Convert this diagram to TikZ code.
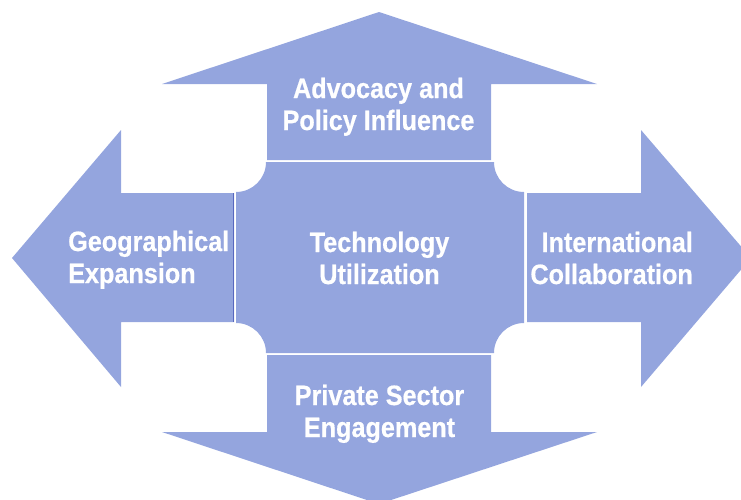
\documentclass[tikz,border=0pt]{standalone}
\usepackage{fontspec}
\setmainfont{Liberation Sans}[FakeStretch=0.9,BoldFeatures={FakeBold=0.6}]
\definecolor{arrowfill}{RGB}{148,165,222}
\definecolor{edgeline}{RGB}{88,104,190}
\begin{document}
\begin{tikzpicture}[x=1pt,y=-1pt,
  lbl/.style={inner sep=0pt,text=white,font=\fontsize{28}{32}\selectfont\bfseries}]
\useasboundingbox (0,0) rectangle (741,499);
% top arrow
\fill[arrowfill] (267,160) -- (267,84) -- (162,84) -- (379,12) -- (597,84) -- (491,84) -- (491,160) -- cycle;
% bottom arrow
\fill[arrowfill] (267,355) -- (491,355) -- (491,432) -- (597,432) -- (379,504) -- (162,432) -- (267,432) -- cycle;
% left arrow
\fill[arrowfill] (234,193) -- (121,193) -- (121,130) -- (12,258) -- (121,387) -- (121,322) -- (234,322) -- cycle;
\draw[edgeline,line width=0.9pt] (233.5,193) -- (233.5,322);
% right arrow
\fill[arrowfill] (527,193) -- (641,193) -- (641,130) -- (751,258) -- (641,387) -- (641,322) -- (527,322) -- cycle;
% centre plaque
\fill[arrowfill] (266,162) -- (494,162) arc[start angle=180,end angle=90,radius=30]
  -- (524,323) arc[start angle=270,end angle=180,radius=30]
  -- (266,353) arc[start angle=0,end angle=-90,radius=30]
  -- (236,192) arc[start angle=90,end angle=0,radius=30] -- cycle;
% labels
\node[lbl,anchor=base] (top) at (378.5,98) {\begin{tabular}[t]{@{}c@{}}Advocacy and\\Policy Influence\end{tabular}};
\node[lbl,anchor=base] (mid) at (379.5,252) {\begin{tabular}[t]{@{}c@{}}Technology\\Utilization\end{tabular}};
\node[lbl,anchor=base] (bot) at (379.5,405) {\begin{tabular}[t]{@{}c@{}}Private Sector\\Engagement\end{tabular}};
\node[lbl,anchor=base west] (left) at (68,251) {\begin{tabular}[t]{@{}l@{}}Geographical\\Expansion\end{tabular}};
\node[lbl,anchor=base east] (right) at (693,252) {\begin{tabular}[t]{@{}r@{}}International\\Collaboration\end{tabular}};
\end{tikzpicture}
\end{document}
